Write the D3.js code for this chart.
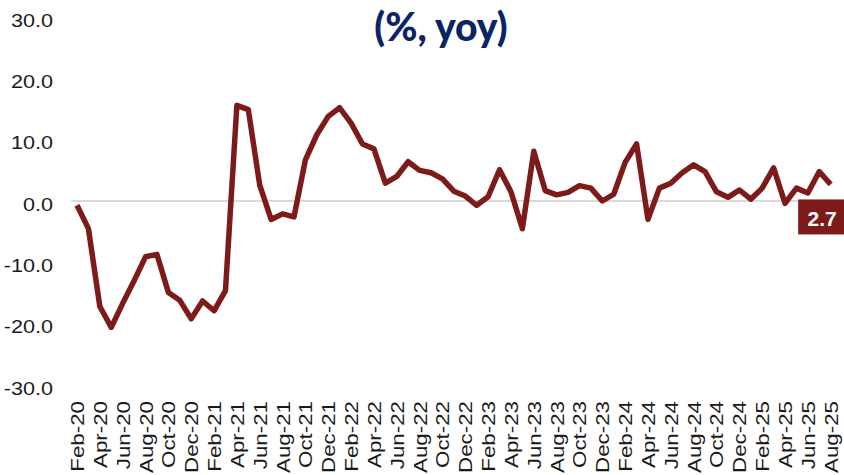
<!DOCTYPE html>
<html>
<head>
<meta charset="utf-8">
<script src="https://cdn.jsdelivr.net/npm/d3@7"></script>
<style>
  body { margin: 0; background: #fff; }
  svg { display: block; }
</style>
</head>
<body>
<svg id="chart"></svg>
<script>
var months = [
  "Feb-20","Mar-20","Apr-20","May-20","Jun-20","Jul-20","Aug-20","Sep-20","Oct-20","Nov-20","Dec-20",
  "Jan-21","Feb-21","Mar-21","Apr-21","May-21","Jun-21","Jul-21","Aug-21","Sep-21","Oct-21","Nov-21","Dec-21",
  "Jan-22","Feb-22","Mar-22","Apr-22","May-22","Jun-22","Jul-22","Aug-22","Sep-22","Oct-22","Nov-22","Dec-22",
  "Jan-23","Feb-23","Mar-23","Apr-23","May-23","Jun-23","Jul-23","Aug-23","Sep-23","Oct-23","Nov-23","Dec-23",
  "Jan-24","Feb-24","Mar-24","Apr-24","May-24","Jun-24","Jul-24","Aug-24","Sep-24","Oct-24","Nov-24","Dec-24",
  "Jan-25","Feb-25","Mar-25","Apr-25","May-25","Jun-25","Jul-25","Aug-25"
];
var yoy = [
  -0.7, -4.5, -17.2, -20.6, -16.7, -13.0, -9.1, -8.7, -14.9, -16.2, -19.2,
  -16.3, -17.9, -14.6, 15.6, 14.9, 2.6, -3.0, -2.1, -2.6, 6.7, 10.8, 13.8,
  15.2, 12.7, 9.3, 8.5, 2.9, 4.0, 6.4, 5.0, 4.6, 3.6, 1.6, 0.8,
  -0.7, 0.7, 5.1, 1.5, -4.5, 8.1, 1.7, 1.0, 1.4, 2.5, 2.1, 0.0,
  1.1, 6.3, 9.3, -3.0, 2.1, 2.9, 4.6, 5.9, 4.8, 1.5, 0.6, 1.8,
  0.3, 2.1, 5.4, -0.4, 2.1, 1.3, 4.8, 2.7
];
var yTicks = [30, 20, 10, 0, -10, -20, -30];
var title = "(%, yoy)";
var lastLabel = "2.7";

var LINE_COLOR = "#7d1a1a";
var TITLE_COLOR = "#0b2463";

var width = 844, height = 475;
var data = months.map(function (m, i) { return { x: m, y: yoy[i] }; });

var svg = d3.select("#chart").attr("width", width).attr("height", height);

var xscale = d3.scalePoint().domain(months).range([71.3, 836.4]).padding(0.5);
var yscale = d3.scaleLinear().domain([-30, 30]).range([385, 17]);

// title
svg.append("text")
  .attr("x", 441)
  .attr("y", 41)
  .attr("text-anchor", "middle")
  .style("font-family", "Lato, 'Open Sans', sans-serif")
  .style("font-weight", 900)
  .style("font-size", "39px")
  .attr("fill", TITLE_COLOR)
  .text(title);

// y axis labels
var yaxis = d3.axisLeft(yscale).tickValues(yTicks).tickSize(0).tickPadding(0)
  .tickFormat(function (d) { return d.toFixed(1); });
var gy = svg.append("g").attr("transform", "translate(53,0)").call(yaxis);
gy.select(".domain").remove();
gy.selectAll("text")
  .attr("x", 0)
  .attr("dy", "0.5em")
  .attr("transform", "scale(1.2,1)")
  .style("font-family", "'Liberation Sans', Arial, sans-serif")
  .style("font-size", "18px")
  .attr("fill", "#1a1a1a");

// zero line
svg.append("line")
  .attr("x1", xscale.range()[0])
  .attr("x2", xscale.range()[1])
  .attr("y1", yscale(0))
  .attr("y2", yscale(0))
  .attr("stroke", "#d9d9d9")
  .attr("stroke-width", 2);

// x axis labels
var xaxis = d3.axisBottom(xscale)
  .tickValues(months.filter(function (d, i) { return i % 2 === 0; }))
  .tickSize(0).tickPadding(0);
var gx = svg.append("g").attr("transform", "translate(0,401)").call(xaxis);
gx.select(".domain").remove();
gx.selectAll("text")
  .attr("y", 0)
  .attr("dy", null)
  .attr("text-anchor", "end")
  .attr("transform", "translate(6.5,0) rotate(-90) scale(1.24,1)")
  .style("font-family", "'Liberation Sans', Arial, sans-serif")
  .style("font-size", "18px")
  .attr("fill", "#1a1a1a");

// series
var valueline = d3.line()
  .x(function (d) { return xscale(d.x); })
  .y(function (d) { return yscale(d.y); });

svg.append("path")
  .attr("fill", "none")
  .attr("stroke", LINE_COLOR)
  .attr("stroke-width", 5.5)
  .attr("stroke-linejoin", "round")
  .attr("d", valueline(data));

// end label
var last = data[data.length - 1];
var lx = xscale(last.x), ly = yscale(last.y);
svg.append("rect")
  .attr("x", lx - 32.5)
  .attr("y", ly + 15)
  .attr("width", 46)
  .attr("height", 35)
  .attr("fill", LINE_COLOR);
svg.append("text")
  .attr("x", lx - 8.5)
  .attr("y", ly + 41.5)
  .attr("text-anchor", "middle")
  .style("font-family", "'Liberation Sans', Arial, sans-serif")
  .style("font-weight", 700)
  .style("font-size", "21px")
  .attr("fill", "#fff")
  .text(lastLabel);
</script>
</body>
</html>
